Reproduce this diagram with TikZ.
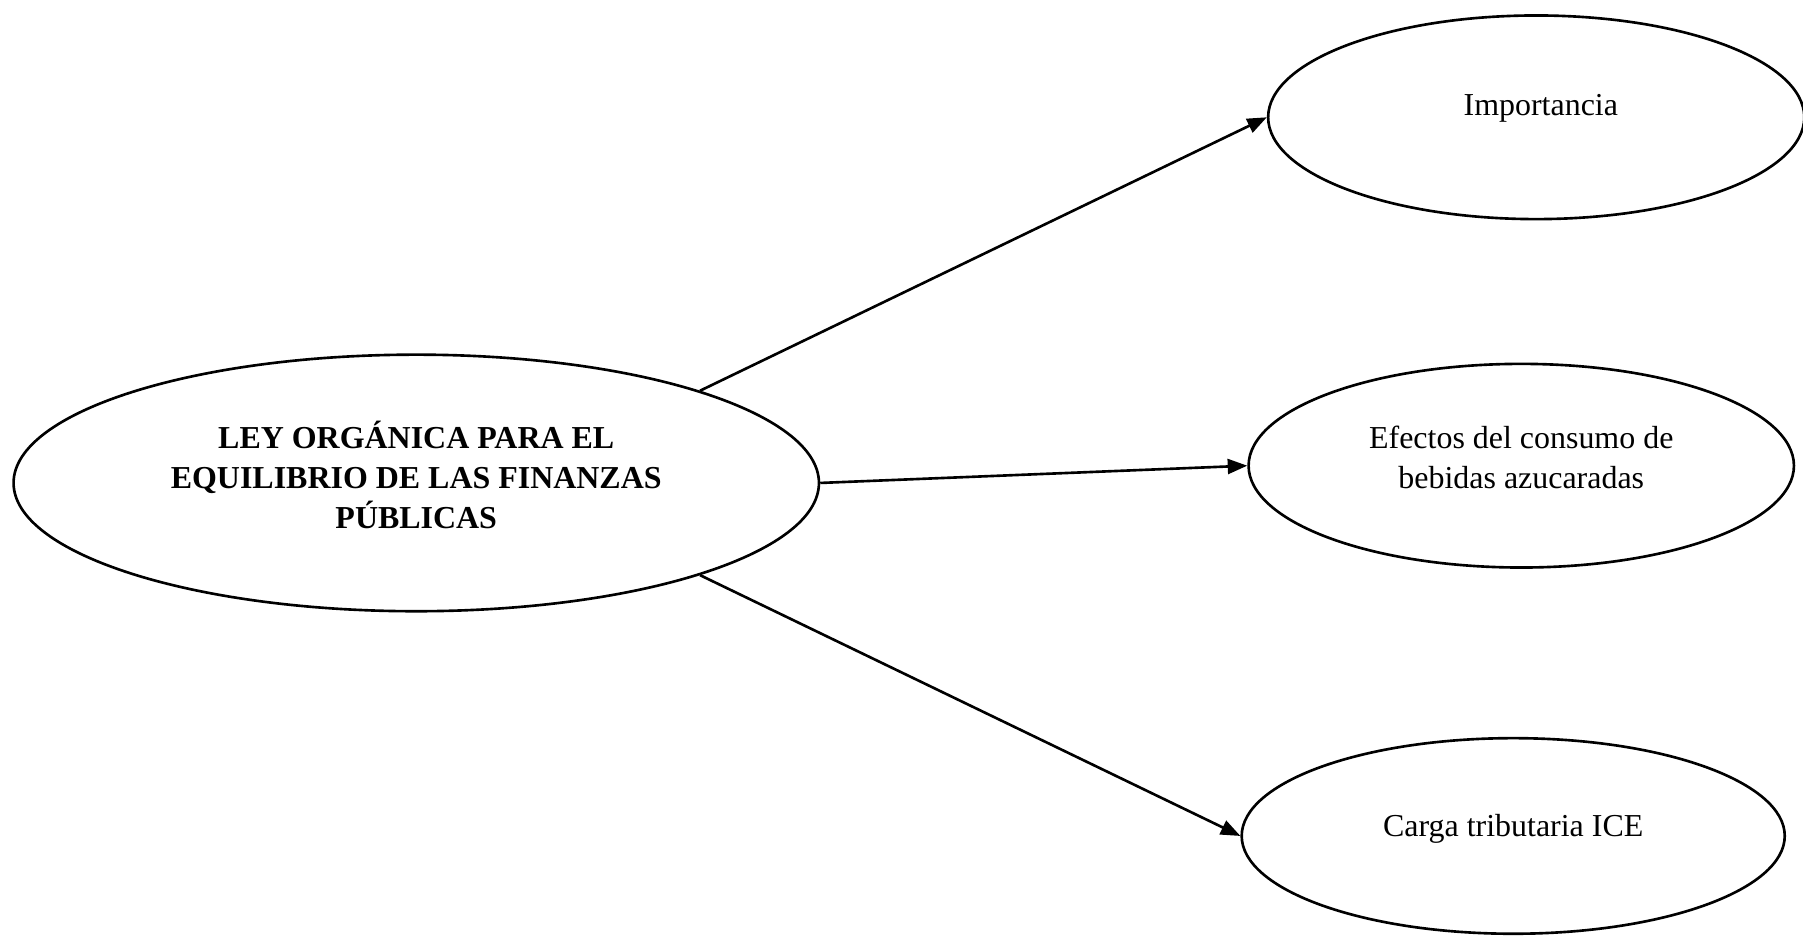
\documentclass[tikz,border=0pt]{standalone}
\usepackage{fontspec}
\setmainfont{Liberation Serif}
\usetikzlibrary{shapes.geometric,arrows.meta}
\begin{document}
\begin{tikzpicture}[x=0.01cm,y=-0.01cm,
  oval/.style={ellipse,draw,line width=0.65pt,inner sep=0pt},
  lbl/.style={font=\fontsize{7.9}{9.9}\selectfont,align=center,inner sep=0pt},
  conn/.style={line width=0.65pt,-{Triangle[length=0.17cm,width=0.13cm]}}]
\useasboundingbox (0,0) rectangle (1568,818);
\node[oval,minimum width=7cm,minimum height=2.23cm] (main) at (362,420) {};
\node[oval,minimum width=4.66cm,minimum height=1.77cm] (imp) at (1336,102) {};
\node[oval,minimum width=4.74cm,minimum height=1.77cm] (efe) at (1323,405) {};
\node[oval,minimum width=4.72cm,minimum height=1.70cm] (car) at (1316,727) {};
\node[lbl,font=\fontsize{7.9}{9.9}\selectfont\bfseries] (maint) at (362,413) {LEY ORGÁNICA PARA EL\\EQUILIBRIO DE LAS FINANZAS\\PÚBLICAS};
\node[lbl] (impt) at (1340,94) {Importancia};
\node[lbl] (efet) at (1323,398) {Efectos del consumo de\\bebidas azucaradas};
\node[lbl] (cart) at (1316,721) {Carga tributaria ICE};
\draw[conn] (main.18.4) -- (imp.west);
\draw[conn] (main.east) -- (efe.west);
\draw[conn] (main.-18.4) -- (car.west);
\end{tikzpicture}
\end{document}
